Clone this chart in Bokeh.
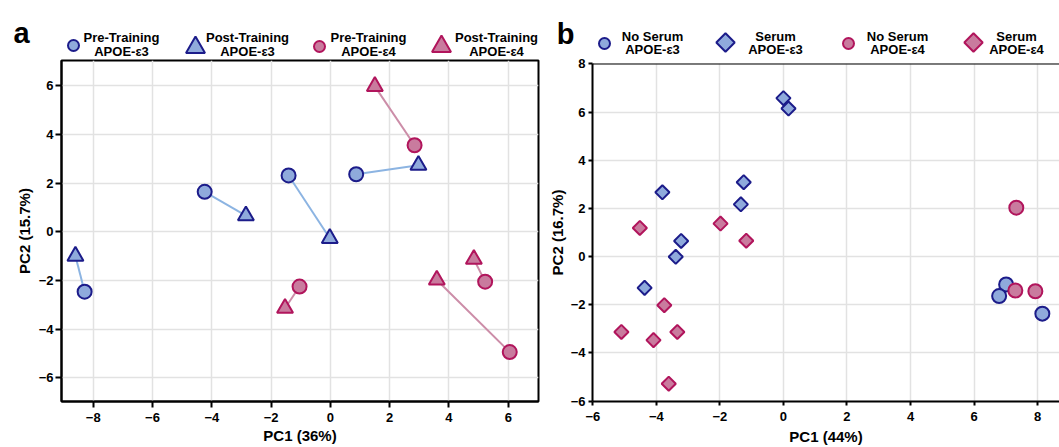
from bokeh.plotting import figure
from bokeh.layouts import column, row
from bokeh.models import Range1d, SingleIntervalTicker, Span
from bokeh.core.properties import value
from bokeh.embed import file_html
from bokeh.resources import INLINE

# ---------------- Panel a data (PC1 36%, PC2 15.7%) ----------------
a_pre_e3_x = [-8.29, -4.24, -1.41, 0.87]
a_pre_e3_y = [-2.46, 1.64, 2.31, 2.36]
a_post_e3_x = [-8.60, -2.85, -0.02, 2.97]
a_post_e3_y = [-1.00, 0.66, -0.27, 2.73]
a_pre_e4_x = [2.84, -1.04, 5.22, 6.05]
a_pre_e4_y = [3.55, -2.25, -2.05, -4.94]
a_post_e4_x = [1.50, -1.53, 4.84, 3.59]
a_post_e4_y = [5.97, -3.14, -1.13, -1.98]

# ---------------- Panel b data (PC1 44%, PC2 16.7%) ----------------
b_noserum_e3_x = [7.01, 6.79, 8.15]
b_noserum_e3_y = [-1.16, -1.64, -2.37]
b_serum_e3_x = [0.00, 0.16, -1.25, -1.34, -3.81, -3.22, -3.39, -4.37]
b_serum_e3_y = [6.58, 6.15, 3.09, 2.17, 2.67, 0.65, -0.01, -1.30]
b_noserum_e4_x = [7.33, 7.30, 7.93]
b_noserum_e4_y = [2.03, -1.41, -1.44]
b_serum_e4_x = [-4.52, -1.98, -1.17, -3.75, -5.10, -4.09, -3.34, -3.61]
b_serum_e4_y = [1.19, 1.37, 0.66, -2.02, -3.13, -3.47, -3.13, -5.28]

legend_a_line1 = ["Pre-Training", "Post-Training", "Pre-Training", "Post-Training"]
legend_a_line2 = ["APOE-ε3", "APOE-ε3", "APOE-ε4", "APOE-ε4"]
legend_b_line1 = ["No Serum", "Serum", "No Serum", "Serum"]
legend_b_line2 = ["APOE-ε3", "APOE-ε3", "APOE-ε4", "APOE-ε4"]

FONT = "Liberation Sans"
BLUE_FILL = "#8FAADC"
BLUE_EDGE = "#1C1C8A"
PINK_FILL = "#C97B9E"
PINK_EDGE = "#B1155C"
BLUE_LINE = "#8CB4E2"
PINK_LINE = "#CC8DA8"
GRID = "#E2E2E2"

FILLS = [BLUE_FILL, BLUE_FILL, PINK_FILL, PINK_FILL]
EDGES = [BLUE_EDGE, BLUE_EDGE, PINK_EDGE, PINK_EDGE]


def style_axes(p, xlabel, ylabel, tick_out, xstand, ystand, ylab_stand, xlab_stand):
    for ax in (p.xaxis[0], p.yaxis[0]):
        ax.ticker = SingleIntervalTicker(interval=2, num_minor_ticks=0)
        ax.axis_line_width = 2
        ax.axis_line_color = "black"
        ax.major_tick_line_width = 2
        ax.major_tick_line_color = "black"
        ax.major_tick_out = tick_out
        ax.major_tick_in = 0
        ax.minor_tick_line_color = None
        ax.major_label_text_font = FONT
        ax.major_label_text_font_style = "bold"
        ax.major_label_text_font_size = "13px"
        ax.major_label_text_color = "black"
        ax.axis_label_text_font = FONT
        ax.axis_label_text_font_style = "bold"
        ax.axis_label_text_font_size = "15px"
        ax.axis_label_text_color = "black"
    p.xaxis[0].axis_label = xlabel
    p.yaxis[0].axis_label = ylabel
    p.xaxis[0].major_label_standoff = xstand
    p.yaxis[0].major_label_standoff = ystand
    p.xaxis[0].axis_label_standoff = xlab_stand
    p.yaxis[0].axis_label_standoff = ylab_stand
    p.xgrid.grid_line_color = GRID
    p.ygrid.grid_line_color = GRID
    p.xgrid.grid_line_width = 1.5
    p.ygrid.grid_line_width = 1.5


def legend_strip(width, height, letter, letter_x, letter_base, mk_x, mk_y, markers,
                 angles, sizes, txt_x, line1, line1_y, line2, line2_y):
    lg = figure(width=width, height=height, output_backend="svg", toolbar_location=None,
                x_range=Range1d(0, width), y_range=Range1d(0, height), min_border=0)
    lg.axis.visible = False
    lg.grid.visible = False
    lg.outline_line_color = None
    lg.text(x=[letter_x], y=[height - letter_base], text=[letter],
            text_font=value(FONT), text_font_style="bold", text_font_size="29px",
            text_align="center", text_baseline="alphabetic", text_color="black")
    lg.scatter(x=mk_x, y=[height - v for v in mk_y], marker=markers, angle=angles,
               size=sizes, fill_color=FILLS, line_color=EDGES, line_width=2)
    for lines, yy in ((line1, line1_y), (line2, line2_y)):
        lg.text(x=txt_x, y=[height - yy] * len(lines), text=lines,
                text_font=value(FONT), text_font_style="bold", text_font_size="13px",
                text_align="center", text_baseline="middle", text_color="black",
                text_line_height=1.0)
    return lg


# ---------------- Panel a ----------------
pa = figure(width=545, height=389, output_backend="svg", toolbar_location=None,
            x_range=Range1d(-9.07, 7.02), y_range=Range1d(-6.97, 7.03),
            min_border_left=61, min_border_right=7, min_border_top=2, min_border_bottom=46)
pa.outline_line_color = "black"
pa.outline_line_width = 2
pa.outline_line_alpha = 1
style_axes(pa, "PC1 (36%)", "PC2 (15.7%)", 6, 5, 2, 3, 2)

pa.segment(x0=a_pre_e3_x, y0=a_pre_e3_y, x1=a_post_e3_x, y1=a_post_e3_y,
           line_color=BLUE_LINE, line_width=2)
pa.segment(x0=a_pre_e4_x, y0=a_pre_e4_y, x1=a_post_e4_x, y1=a_post_e4_y,
           line_color=PINK_LINE, line_width=2)
pa.scatter(a_pre_e3_x, a_pre_e3_y, marker="circle", size=14,
           fill_color=BLUE_FILL, line_color=BLUE_EDGE, line_width=2)
pa.scatter(a_post_e3_x, a_post_e3_y, marker="triangle", size=16,
           fill_color=BLUE_FILL, line_color=BLUE_EDGE, line_width=2)
pa.scatter(a_pre_e4_x, a_pre_e4_y, marker="circle", size=14,
           fill_color=PINK_FILL, line_color=PINK_EDGE, line_width=2)
pa.scatter(a_post_e4_x, a_post_e4_y, marker="triangle", size=16,
           fill_color=PINK_FILL, line_color=PINK_EDGE, line_width=2)

# ---------------- Panel b ----------------
pb = figure(width=514, height=391, output_backend="svg", toolbar_location=None,
            x_range=Range1d(-6.01, 8.69), y_range=Range1d(-6.02, 8.02),
            min_border_left=47, min_border_right=0, min_border_top=7, min_border_bottom=45)
pb.outline_line_color = None
style_axes(pb, "PC1 (44%)", "PC2 (16.7%)", 4, 6, 3, 2, 4)
pb.add_layout(Span(location=8.02, dimension="width", line_color="black", line_width=2))

pb.scatter(b_serum_e3_x, b_serum_e3_y, marker="square", angle=0.785398, size=10,
           fill_color=BLUE_FILL, line_color=BLUE_EDGE, line_width=2)
pb.scatter(b_serum_e4_x, b_serum_e4_y, marker="square", angle=0.785398, size=10,
           fill_color=PINK_FILL, line_color=PINK_EDGE, line_width=2)
pb.scatter(b_noserum_e3_x, b_noserum_e3_y, marker="circle", size=14,
           fill_color=BLUE_FILL, line_color=BLUE_EDGE, line_width=2)
pb.scatter(b_noserum_e4_x, b_noserum_e4_y, marker="circle", size=14,
           fill_color=PINK_FILL, line_color=PINK_EDGE, line_width=2)

# ---------------- Legend strips (layout positions in pixels) ----------------
lga = legend_strip(545, 58, "a", 21, 32,
                   [73, 195, 319, 441], [45, 47, 46, 46],
                   ["circle", "triangle", "circle", "triangle"], [0, 0, 0, 0],
                   [11, 19, 11, 19], [121, 247, 368, 496],
                   legend_a_line1, 37, legend_a_line2, 50.5)

OFF = 545
lgb = legend_strip(514, 56, "b", 565 - OFF, 33,
                   [604 - OFF, 725 - OFF, 848 - OFF, 973 - OFF], [43, 42, 43, 42],
                   ["circle", "square", "circle", "square"], [0, 0.785398, 0, 0.785398],
                   [11, 13, 11, 13], [652 - OFF, 775 - OFF, 897 - OFF, 1016 - OFF],
                   legend_b_line1, 35.5, legend_b_line2, 49)

layout = row(column(lga, row(pa, spacing=0), spacing=0),
             column(lgb, row(pb, spacing=0), spacing=0), spacing=0)

open("out.html", "w").write(file_html(layout, INLINE))
